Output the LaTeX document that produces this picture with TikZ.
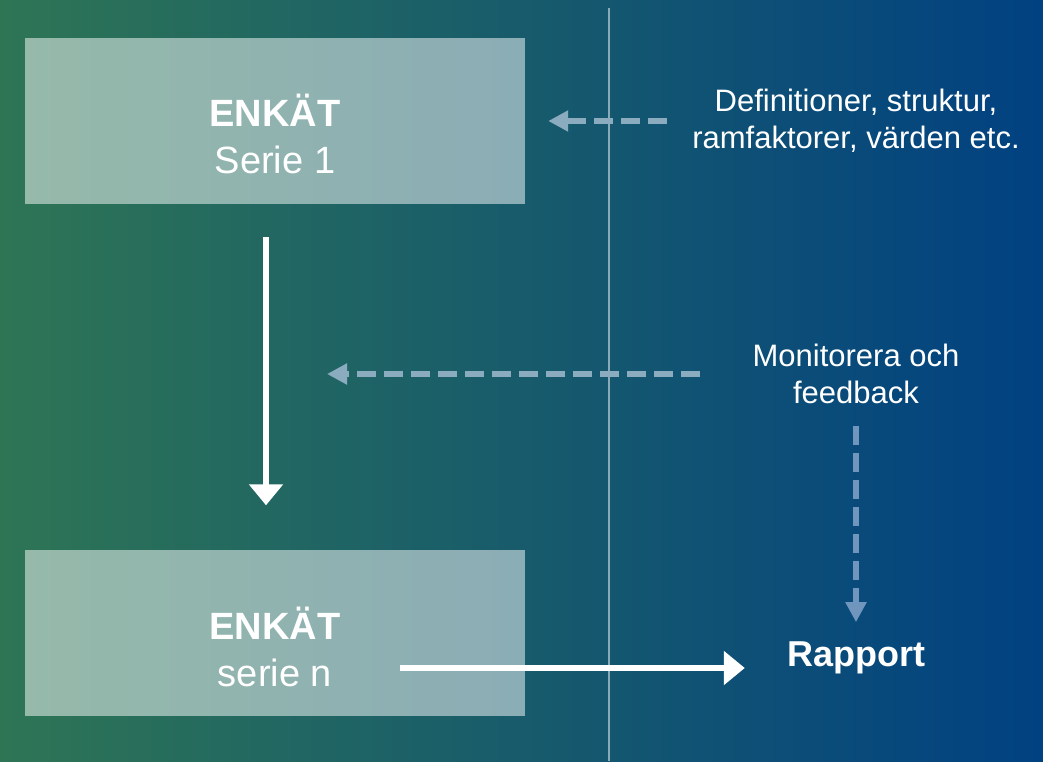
\documentclass[tikz,border=0pt]{standalone}
\usepackage{fontspec}
\setmainfont{Liberation Sans}
\usetikzlibrary{arrows.meta}
\definecolor{bgleft}{RGB}{46,117,85}
\definecolor{bgright}{RGB}{1,65,130}
\definecolor{dashcol}{RGB}{138,172,190}
\definecolor{vdashcol}{RGB}{112,150,190}

\begin{document}
\begin{tikzpicture}[x=1pt,y=-1pt,
	enkbox/.style={fill=white,fill opacity=0.5,minimum width=500pt,minimum height=166pt,inner sep=0pt},
	boxtext/.style={text=white,align=center,inner sep=0pt,font=\fontsize{38}{47}\selectfont},
	sidetext/.style={text=white,align=center,inner sep=0pt,font=\fontsize{31}{37}\selectfont},
	solidarrow/.style={white,line width=6pt,-{Triangle[width=33pt,length=21pt]}},
	dasharrow/.style={dashcol,line width=6pt,dash pattern=on 19pt off 8pt,-{Triangle[width=20pt,length=20pt]}}]
	\useasboundingbox (0,0) rectangle (1043,761);
	\shade[left color=bgleft,right color=bgright] (0,0) rectangle (1043,761);
	\draw[white,opacity=0.5,line width=2pt] (609,8) -- (609,761);

	\node[enkbox] (s1) at (275,121) {};
	\node[enkbox] (s2) at (275,632.5) {};
	\node[boxtext] (t1) at ([yshift=-13pt]s1.center) {\textbf{ENKÄT}\\Serie 1};
	\node[boxtext] (t2) at ([yshift=-14pt]s2.center) {\textbf{ENKÄT}\\serie n};

	\node[sidetext] (defs) at (856,121) {Definitioner, struktur,\\ramfaktorer, värden etc.};
	\node[sidetext] (mon) at (856,374) {Monitorera och\\feedback};
	\node[sidetext,font={\fontsize{36}{43}\selectfont\bfseries}] (rap) at (856,657.5) {Rapport};

	\coordinate (fb) at (327,374);
	\coordinate (hs) at (400,668);

	\draw[solidarrow,shorten <=33pt,shorten >=44pt] ([xshift=-9pt]s1.south) -- ([xshift=-9pt]s2.north);
	\draw[solidarrow,shorten >=42pt] (hs) -- (hs -| rap.west);
	\draw[dasharrow,shorten <=25pt,shorten >=23pt] (defs.west) -- (defs.west -| s1.east);
	\draw[dasharrow,shorten <=52pt] (mon.west) -- (fb);
	\draw[dasharrow,vdashcol,shorten <=22pt,shorten >=19pt] (mon.south) -- (rap.north);
\end{tikzpicture}
\end{document}
